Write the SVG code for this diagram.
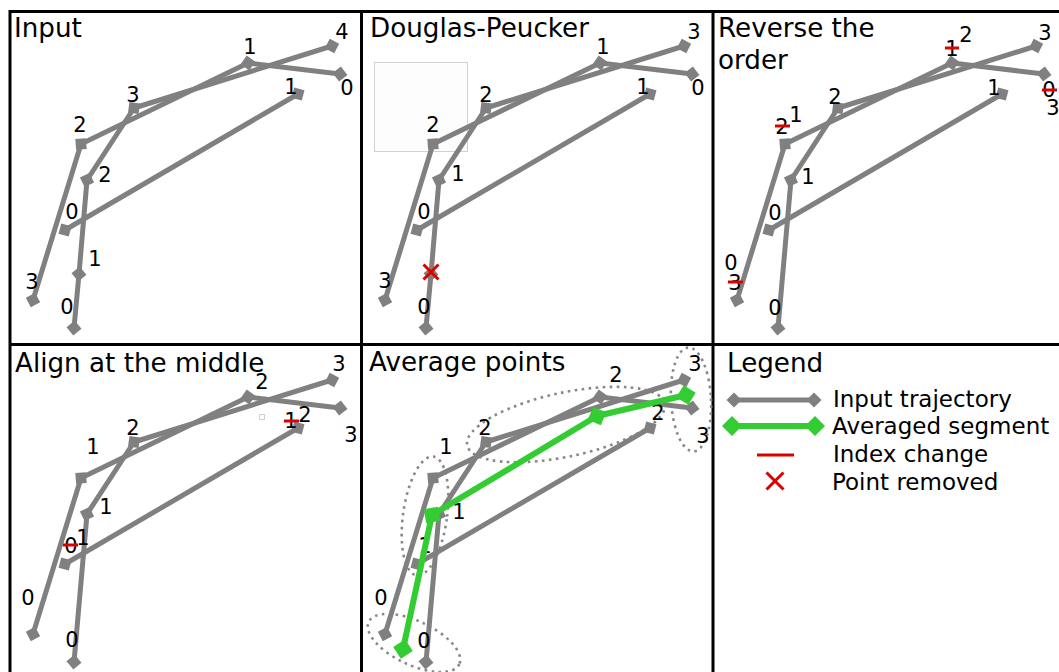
<svg xmlns="http://www.w3.org/2000/svg" width="1059" height="672" viewBox="0 0 1059 672">
<style>
text{font-family:"DejaVu Sans","Liberation Sans",sans-serif;fill:#000}
.t{font-size:26.2px}
.n{font-size:21px;text-anchor:middle}
.lg{font-size:23px}
.traj{fill:none;stroke:#808080;stroke-width:5;stroke-linejoin:round;marker-start:url(#dg);marker-mid:url(#dg);marker-end:url(#dg)}
.avg{fill:none;stroke:#33cc33;stroke-width:6;stroke-linejoin:round;marker-start:url(#dgr);marker-mid:url(#dgr);marker-end:url(#dgr)}
.strike{stroke:#dd0000;stroke-width:3}
.xm{stroke:#dd0000;stroke-width:3;fill:none}
.grp{fill:none;stroke:#888;stroke-width:2.6;stroke-dasharray:2.6 4.4}
.frame{stroke:#000;stroke-width:3;fill:none}
</style>
<defs>
<marker id="dg" markerUnits="userSpaceOnUse" markerWidth="16" markerHeight="16" refX="8" refY="8" orient="auto" overflow="visible"><path d="M0.5 8L8 0.5L15.5 8L8 15.5Z" fill="#808080"/></marker>
<marker id="dgr" markerUnits="userSpaceOnUse" markerWidth="22" markerHeight="22" refX="11" refY="11" orient="auto" overflow="visible"><path d="M1 11L11 1L21 11L11 21Z" fill="#33cc33"/></marker>
</defs>
<rect width="1059" height="672" fill="#fff"/>
<g id="frame">
<path class="frame" d="M10 11.5H1059M10 344.5H1059M10 10V672M361.5 10V672M713 10V672"/>
</g>

<g id="panel-input">
<text class="t" x="14" y="37">Input</text>
<g id="connectors-1">
<polyline class="traj" points="74,328 79,274 87,180 134,108 332,46"/>
<polyline class="traj" points="340,74 248,63 81,144 33,300"/>
<polyline class="traj" points="65,230 298,94"/>
</g>
<g class="labels">
<text class="n" x="342" y="39">4</text>
<text class="n" x="250" y="54">1</text>
<text class="n" x="347" y="95">0</text>
<text class="n" x="291" y="94">1</text>
<text class="n" x="133" y="102">3</text>
<text class="n" x="80" y="132">2</text>
<text class="n" x="105" y="182">2</text>
<text class="n" x="72" y="219">0</text>
<text class="n" x="95" y="266">1</text>
<text class="n" x="32" y="289">3</text>
<text class="n" x="67" y="314">0</text>
</g>
</g>

<g id="panel-douglas-peucker">
<text class="t" x="370" y="37">Douglas-Peucker</text>
<rect x="374.5" y="62.5" width="93" height="89" fill="#fcfdfc" stroke="#cfd2cf" stroke-width="1"/>
<g id="connectors-2" transform="translate(352,0)">
<polyline class="traj" points="74,328 79,274 87,180 134,108 332,46"/>
<polyline class="traj" points="340,74 248,63 81,144 33,300"/>
<polyline class="traj" points="65,230 298,94"/>
</g>
<g class="labels">
<text class="n" x="694" y="39">3</text>
<text class="n" x="603" y="54">1</text>
<text class="n" x="698" y="95">0</text>
<text class="n" x="643" y="94">1</text>
<text class="n" x="486" y="102">2</text>
<text class="n" x="433" y="132">2</text>
<text class="n" x="458" y="181">1</text>
<text class="n" x="424" y="219">0</text>
<text class="n" x="385" y="288">3</text>
<text class="n" x="424" y="314">0</text>
</g>
<path class="xm" d="M423.5 264.5L438.5 279.5M438.5 264.5L423.5 279.5"/>
</g>

<g id="panel-reverse">
<text class="t" x="718" y="37">Reverse the</text>
<text class="t" x="718" y="69">order</text>
<g id="connectors-3" transform="translate(704,0)">
<polyline class="traj" points="74,328 87,180 134,108 332,46"/>
<polyline class="traj" points="340,74 248,63 81,144 33,300"/>
<polyline class="traj" points="65,230 298,94"/>
</g>
<g class="labels">
<text class="n" x="1045" y="40">3</text>
<text class="n" x="952" y="56">1</text>
<line class="strike" x1="945" y1="48" x2="959" y2="48"/>
<text class="n" x="966" y="42">2</text>
<text class="n" x="1049" y="97">0</text>
<line class="strike" x1="1042" y1="90" x2="1057" y2="90"/>
<text class="n" x="1053" y="115">3</text>
<text class="n" x="994" y="95">1</text>
<text class="n" x="835" y="104">2</text>
<text class="n" x="782" y="134">2</text>
<line class="strike" x1="775" y1="126" x2="790" y2="126"/>
<text class="n" x="796" y="122">1</text>
<text class="n" x="808" y="184">1</text>
<text class="n" x="775" y="220">0</text>
<text class="n" x="731" y="270">0</text>
<text class="n" x="735" y="290">3</text>
<line class="strike" x1="728" y1="282" x2="743" y2="282"/>
<text class="n" x="775" y="315">0</text>
</g>
</g>

<g id="panel-align">
<text class="t" x="15" y="372">Align at the middle</text>
<rect x="259.5" y="414.5" width="5" height="5" fill="none" stroke="#d0d0d0" stroke-width="1"/>
<g id="connectors-4" transform="translate(0,334)">
<polyline class="traj" points="74,328 87,180 134,108 332,46"/>
<polyline class="traj" points="340,74 248,63 81,144 33,300"/>
<polyline class="traj" points="65,230 298,94"/>
</g>
<g class="labels">
<text class="n" x="339" y="371">3</text>
<text class="n" x="262" y="389">2</text>
<text class="n" x="351" y="442">3</text>
<text class="n" x="291" y="428">1</text>
<line class="strike" x1="284" y1="421" x2="299" y2="421"/>
<text class="n" x="305" y="422">2</text>
<text class="n" x="133" y="435">2</text>
<text class="n" x="93" y="454">1</text>
<text class="n" x="106" y="514">1</text>
<text class="n" x="71" y="553">0</text>
<line class="strike" x1="63" y1="545" x2="78" y2="545"/>
<text class="n" x="83" y="545">1</text>
<text class="n" x="28" y="605">0</text>
<text class="n" x="72" y="647">0</text>
</g>
</g>

<g id="panel-average">
<text class="t" x="369" y="371">Average points</text>
<g id="groups-5">
<ellipse class="grp" cx="414" cy="643" rx="50" ry="22" transform="rotate(25 414 643)"/>
<ellipse class="grp" cx="425" cy="516" rx="22" ry="60" transform="rotate(8 425 516)"/>
<ellipse class="grp" cx="566" cy="424.5" rx="101" ry="32" transform="rotate(-12 566 424.5)"/>
<ellipse class="grp" cx="691" cy="399.5" rx="20" ry="52" transform="rotate(-3 691 399.5)"/>
</g>
<g id="connectors-5" transform="translate(352,334)">
<polyline class="traj" points="74,328 87,180 134,108 332,46"/>
<polyline class="traj" points="340,74 248,63 81,144 33,300"/>
<polyline class="traj" points="65,230 298,94"/>
</g>
<g class="labels">
<text class="n" x="695" y="371">3</text>
<text class="n" x="616" y="382">2</text>
<text class="n" x="658" y="420">2</text>
<text class="n" x="703" y="443">3</text>
<text class="n" x="485" y="435">2</text>
<text class="n" x="446" y="454">1</text>
<text class="n" x="459" y="519">1</text>
<text class="n" x="381" y="605">0</text>
<text class="n" x="424" y="648">0</text>
<text class="n" x="425" y="553">1</text>
</g>
<g id="averaged-segment">
<polyline class="avg" points="403,649 432,515 597,416 686,395"/>
</g>
</g>

<g id="legend">
<text class="t" x="727" y="372">Legend</text>
<line class="traj" x1="734" y1="400" x2="814" y2="400"/>
<text class="lg" x="833" y="407">Input trajectory</text>
<line class="avg" x1="732" y1="426" x2="815" y2="426"/>
<text class="lg" x="832" y="434">Averaged segment</text>
<line class="strike" x1="757" y1="455" x2="794" y2="455"/>
<text class="lg" x="833" y="462">Index change</text>
<path class="xm" d="M766.5 472.5L783.5 489.5M783.5 472.5L766.5 489.5"/>
<text class="lg" x="832" y="490">Point removed</text>
</g>
</svg>
